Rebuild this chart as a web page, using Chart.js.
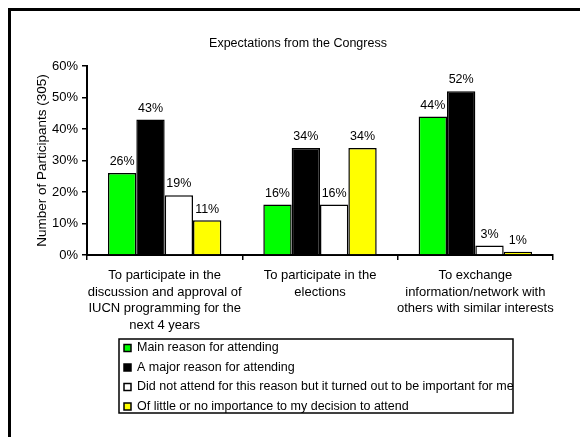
<!DOCTYPE html>
<html>
<head>
<meta charset="utf-8">
<script src="https://cdn.jsdelivr.net/npm/chart.js@4/dist/chart.umd.min.js"></script>
<style>
  html, body { margin: 0; padding: 0; background: #fff; overflow: hidden; }
  #wrap { position: relative; width: 580px; height: 437px; }
  #frame {
    position: absolute; left: 8px; top: 8px; width: 600px; height: 500px;
    border-left: 3px solid #000; border-top: 3px solid #000;
    pointer-events: none;
  }
</style>
</head>
<body>
<div id="wrap">
  <canvas id="chart"></canvas>
  <div id="frame"></div>
</div>
<script>
var FONT = '"Liberation Sans", Arial, sans-serif';

var categories = [
    ['To participate in the', 'discussion and approval of', 'IUCN programming for the', 'next 4 years'],
    ['To participate in the', 'elections'],
    ['To exchange', 'information/network with', 'others with similar interests']
];
var seriesNames = [
    'Main reason for attending',
    'A major reason for attending',
    'Did not attend for this reason but it turned out to be important for me',
    'Of little or no importance to my decision to attend'
];
var mainReason = [26, 16, 44];
var majorReason = [43, 34, 52];
var turnedOutImportant = [19, 16, 3];
var littleImportance = [11, 34, 1];
var yTicks = [0, 10, 20, 30, 40, 50, 60];

var colors = ['#00ff00', '#000000', '#ffffff', '#ffff00'];
var seriesValues = [mainReason, majorReason, turnedOutImportant, littleImportance];

var datasets = [];
for (var i = 0; i < seriesNames.length; i++) {
    datasets.push({
        label: seriesNames[i],
        data: seriesValues[i],
        backgroundColor: colors[i],
        borderColor: '#000',
        borderWidth: 1.5,
        categoryPercentage: 0.73,
        barPercentage: 1
    });
}

// percentage labels above each bar
var valueLabels = {
    id: 'valueLabels',
    afterDatasetsDraw: function(chart) {
        var ctx = chart.ctx;
        ctx.save();
        ctx.font = '12.5px ' + FONT;
        ctx.fillStyle = '#000';
        ctx.textAlign = 'center';
        ctx.textBaseline = 'bottom';
        chart.data.datasets.forEach(function(ds, i) {
            chart.getDatasetMeta(i).data.forEach(function(bar, j) {
                ctx.fillText(ds.data[j] + '%', bar.x, bar.y - 5);
            });
        });
        ctx.restore();
    }
};

// boxed legend, one entry per line
var boxLegend = {
    id: 'boxLegend',
    afterDraw: function(chart) {
        var ctx = chart.ctx;
        var left = 119, top = 339, width = 394, height = 74;
        ctx.save();
        ctx.font = '12.5px ' + FONT;
        ctx.textBaseline = 'middle';
        ctx.textAlign = 'left';
        chart.data.datasets.forEach(function(ds, i) {
            var cy = 348 + i * 19.5;
            ctx.fillStyle = ds.backgroundColor;
            ctx.fillRect(124, cy - 3.5, 7, 7);
            ctx.strokeStyle = '#000';
            ctx.lineWidth = 1.5;
            ctx.strokeRect(124, cy - 3.5, 7, 7);
            ctx.fillStyle = '#000';
            ctx.fillText(ds.label, 137, cy);
        });
        ctx.strokeStyle = '#000';
        ctx.lineWidth = 1.5;
        ctx.strokeRect(left, top, width, height);
        ctx.restore();
    }
};

var ctx = document.getElementById('chart').getContext('2d');
var myChart = new Chart(ctx, {
    type: 'bar',
    data: {
        labels: categories,
        datasets: datasets
    },
    options: {
        responsive: true,
        maintainAspectRatio: false,
        animation: false,
        layout: { padding: { left: 43, right: 27, top: 0, bottom: 102 } },
        plugins: {
            legend: { display: false },
            tooltip: { enabled: false },
            title: {
                display: true,
                text: 'Expectations from the Congress',
                color: '#000',
                font: { family: FONT, size: 12.5, weight: 'normal' },
                padding: { top: 36, bottom: 15 }
            }
        },
        scales: {
            x: {
                grid: { drawOnChartArea: false, drawTicks: true, tickLength: 5, color: '#000', lineWidth: 1.5, offset: true },
                border: { display: true, color: '#000', width: 2 },
                ticks: {
                    color: '#000',
                    font: { family: FONT, size: 13, lineHeight: 1.28 },
                    padding: 7,
                    maxRotation: 0,
                    autoSkip: false
                },
                afterFit: function(scale) { scale.height = 80; }
            },
            y: {
                min: 0,
                max: 60,
                afterBuildTicks: function(scale) {
                    scale.ticks = yTicks.map(function(v) { return { value: v }; });
                },
                ticks: {
                    color: '#000',
                    font: { family: FONT, size: 13 },
                    padding: 4,
                    callback: function(v) { return v + '%'; }
                },
                grid: { drawOnChartArea: false, drawTicks: true, tickLength: 5, color: '#000', lineWidth: 1.5 },
                border: { display: true, color: '#000', width: 2 },
                title: {
                    display: true,
                    text: 'Number of Participants (305)',
                    color: '#000',
                    font: { family: FONT, size: 13.5 },
                    padding: { top: -9, bottom: 0 }
                },
                afterFit: function(scale) { scale.width = 44; }
            }
        }
    },
    plugins: [valueLabels, boxLegend]
});
</script>
</body>
</html>
